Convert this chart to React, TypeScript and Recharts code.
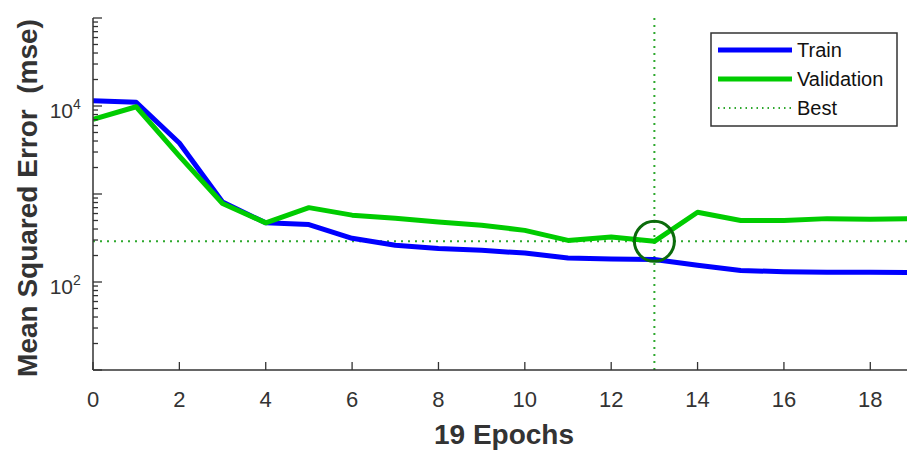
import {
  LineChart,
  Line,
  XAxis,
  YAxis,
  ReferenceLine,
  ReferenceDot,
} from "recharts";

const epochs = [0, 1, 2, 3, 4, 5, 6, 7, 8, 9, 10, 11, 12, 13, 14, 15, 16, 17, 18, 19];
const trainMse = [11500, 11000, 3800, 810, 470, 450, 314, 261, 241, 229, 213, 187, 182, 180, 155, 135, 131, 129, 129, 128];
const validationMse = [7050, 9800, 2700, 780, 470, 700, 575, 530, 480, 442, 386, 297, 325, 290, 620, 500, 500, 525, 516, 525];
const bestEpoch = 13;
const bestMse = 290;

const xTicks = [0, 2, 4, 6, 8, 10, 12, 14, 16, 18];
const yTicks = [1, 2, 3, 4].flatMap((e) =>
  [1, 2, 3, 4, 5, 6, 7, 8, 9].map((m) => m * Math.pow(10, e))
).concat([100000]);
const yLabels = [100, 10000];

const data = epochs.map((epoch, i) => ({
  epoch,
  train: trainMse[i],
  validation: validationMse[i],
}));

const FONT = "Arial, 'Liberation Sans', sans-serif";
const AXIS = "#333333";
const BLUE = "#0000ff";
const GREEN = "#00cc00";
const BEST = "#2ea82e";

function YTick(props: any) {
  const { x, y, payload } = props;
  const v = payload.value;
  const lg = Math.log10(v);
  const exp = Math.round(lg);
  const major = Math.abs(lg - exp) < 1e-6;
  return (
    <g>
      <line x1={x} y1={y} x2={x + (major ? 9 : 5)} y2={y} stroke={AXIS} strokeWidth={1.3} />
      {yLabels.includes(v) && (
        <g fontFamily={FONT} fill="#333">
          <text x={x - 20} y={y + 12} fontSize={21} textAnchor="end">10</text>
          <text x={x - 20} y={y + 3} fontSize={14} textAnchor="start">{exp}</text>
        </g>
      )}
    </g>
  );
}

function XTick(props: any) {
  const { x, y, payload } = props;
  return (
    <g>
      <line x1={x} y1={y} x2={x} y2={y - 8} stroke={AXIS} strokeWidth={1.3} />
      <text x={x} y={y + 37} fontSize={22} textAnchor="middle" fontFamily={FONT} fill="#333">
        {payload.value}
      </text>
    </g>
  );
}

function LegendBox() {
  const rows = [
    { label: "Train", color: BLUE, width: 5, dash: undefined },
    { label: "Validation", color: GREEN, width: 5, dash: undefined },
    { label: "Best", color: BEST, width: 1.8, dash: "1.5 4" },
  ];
  return (
    <svg
      width={188}
      height={95}
      style={{ position: "absolute", left: 710, top: 32, display: "block" }}
    >
      <rect x={1} y={1} width={186} height={93} fill="#fff" stroke={AXIS} strokeWidth={1.5} />
      {rows.map((r, i) => (
        <g key={r.label}>
          <line
            x1={8}
            x2={82}
            y1={18 + i * 29}
            y2={18 + i * 29}
            stroke={r.color}
            strokeWidth={r.width}
            strokeDasharray={r.dash}
          />
          <text x={87} y={25 + i * 29} fontSize={20} fontFamily={FONT} fill="#111">
            {r.label}
          </text>
        </g>
      ))}
    </svg>
  );
}

export default function App() {
  return (
    <div style={{ position: "absolute", left: 0, top: 0, width: 907, height: 452, background: "#fff" }}>
      <LineChart
        width={907}
        height={452}
        data={data}
        margin={{ top: 18, right: 0, bottom: 0, left: 0 }}
      >
        <XAxis
          dataKey="epoch"
          type="number"
          domain={[0, 18.85]}
          allowDataOverflow
          ticks={xTicks}
          interval={0}
          height={82}
          tickSize={0}
          tickMargin={0}
          tickLine={false}
          tick={<XTick />}
          axisLine={{ stroke: AXIS, strokeWidth: 1.5 }}
        />
        <YAxis
          scale="log"
          domain={[10, 100000]}
          allowDataOverflow
          ticks={yTicks}
          interval={0}
          width={93}
          tickSize={0}
          tickMargin={0}
          tickLine={false}
          tick={<YTick />}
          axisLine={{ stroke: AXIS, strokeWidth: 1.5 }}
        />
        <ReferenceLine y={bestMse} stroke={BEST} strokeWidth={2} strokeDasharray="2 5" />
        <ReferenceLine x={bestEpoch} stroke={BEST} strokeWidth={2} strokeDasharray="2 5" />
        <Line
          dataKey="train"
          stroke={BLUE}
          strokeWidth={5}
          dot={false}
          activeDot={false}
          isAnimationActive={false}
          strokeLinejoin="round"
        />
        <Line
          dataKey="validation"
          stroke={GREEN}
          strokeWidth={5}
          dot={false}
          activeDot={false}
          isAnimationActive={false}
          strokeLinejoin="round"
        />
        <ReferenceDot
          x={bestEpoch}
          y={bestMse}
          r={20}
          fill="none"
          stroke="#0b6b0b"
          strokeWidth={3}
        />
        <text
          x={37}
          y={198}
          transform="rotate(-90 37 198)"
          textAnchor="middle"
          fontSize={28}
          fontWeight="bold"
          fontFamily={FONT}
          fill="#333"
          style={{ whiteSpace: "pre" }}
        >
          Mean Squared Error  (mse)
        </text>
        <text
          x={504}
          y={444}
          textAnchor="middle"
          fontSize={28}
          fontWeight="bold"
          fontFamily={FONT}
          fill="#333"
        >
          19 Epochs
        </text>
      </LineChart>
      <LegendBox />
    </div>
  );
}
